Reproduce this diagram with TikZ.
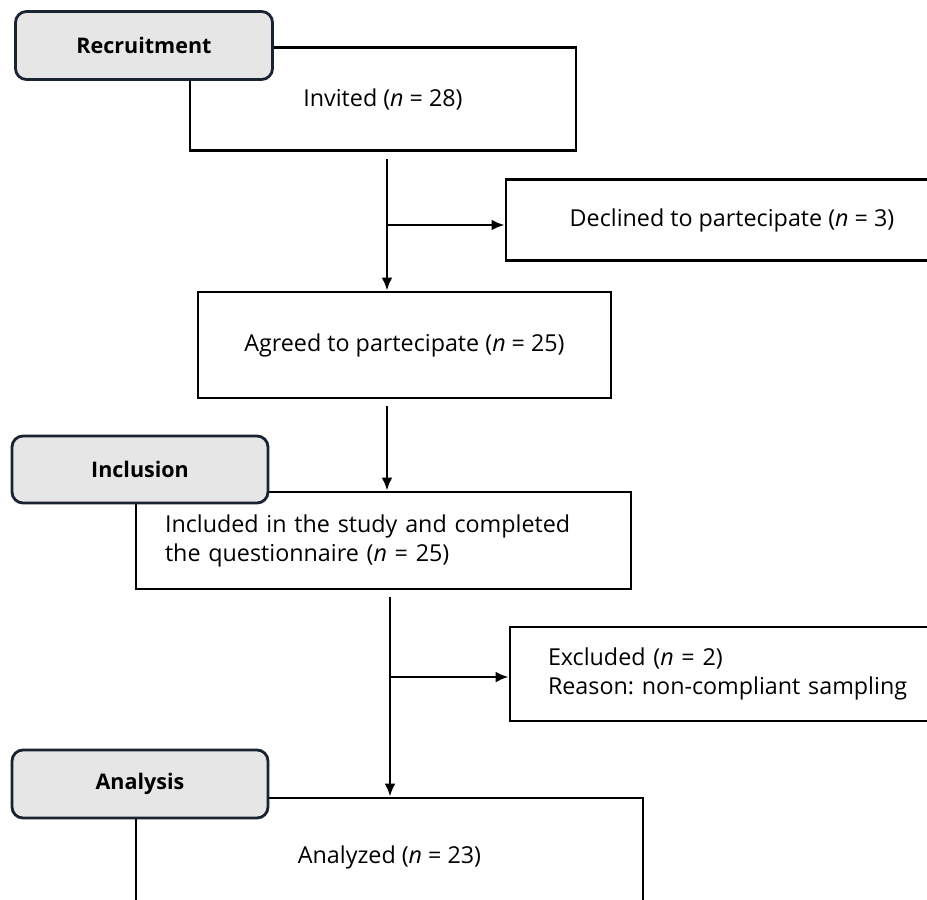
\documentclass[tikz,border=0pt]{standalone}
\usepackage{fontspec}
\setmainfont{Open Sans}
\usetikzlibrary{arrows.meta}
\definecolor{tagline}{RGB}{25,35,50}
\definecolor{tagfill}{RGB}{230,230,230}
\frenchspacing
\begin{document}
\begin{tikzpicture}[x=1pt,y=-1pt,
  box/.style={draw,line width=2.8pt,fill=white,inner sep=0pt,font=\fontsize{23.3}{29}\selectfont},
  tag/.style={draw=tagline,fill=tagfill,line width=2.8pt,rounded corners=11pt,inner sep=0pt,
    minimum width=256pt,minimum height=67pt,font=\bfseries\fontsize{21.5}{25}\selectfont},
  arrow/.style={line width=2.6pt,-{Latex[length=13pt,width=11pt]}}]
\clip (0,0) rectangle (927,900);
\fill[white] (0,0) rectangle (927,900);
% boxes
\node[box,minimum width=386pt,minimum height=103pt] (invited) at (383,99) {Invited (\textit{n} = 28)};
\node[box,minimum width=452pt,minimum height=81pt] (declined) at (732,220) {Declined to partecipate (\textit{n} = 3)};
\node[box,minimum width=413pt,minimum height=106pt] (agreed) at (404.5,345) {Agreed to partecipate (\textit{n} = 25)};
\node[box,minimum width=495pt,minimum height=97pt,text width=437pt,align=left] (included) at (383.5,540.5) {Included in the study and completed\\the questionnaire (\textit{n} = 25)};
\node[box,minimum width=450pt,minimum height=94pt,text width=374pt,align=left] (excluded) at (735,674) {Excluded (\textit{n} = 2)\\Reason: non-compliant sampling};
\node[box,minimum width=507pt,minimum height=118pt] (analyzed) at (389.5,857) {Analyzed (\textit{n} = 23)};
% stage tags
\node[tag,minimum width=257pt,minimum height=68pt] (recruitment) at (144,45.5) {Recruitment};
\node[tag] (inclusion) at (140,469.5) {Inclusion};
\node[tag,minimum height=68pt] (analysis) at (140,784) {Analysis};
% arrows
\coordinate (split1) at (387,225);
\coordinate (split2) at (390,677);
\draw[arrow,shorten <=7pt] (split1 |- invited.south) -- (split1 |- agreed.north);
\draw[arrow] (split1) -- (split1 -| declined.west);
\draw[arrow,shorten <=7pt] (split1 |- agreed.south) -- (split1 |- included.north);
\draw[arrow,shorten <=7pt] (split2 |- included.south) -- (split2 |- analyzed.north);
\draw[arrow] (split2) -- (split2 -| excluded.west);
\end{tikzpicture}
\end{document}
